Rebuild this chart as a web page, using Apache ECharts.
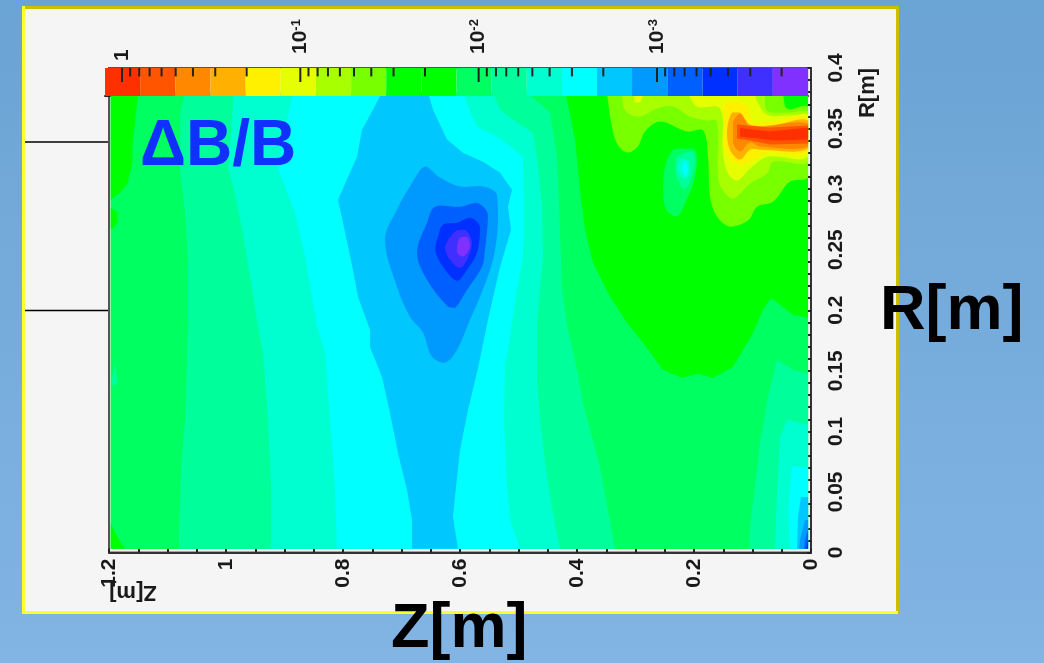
<!DOCTYPE html>
<html><head><meta charset="utf-8">
<style>html,body{margin:0;padding:0;background:#78ade0}#c{width:1044px;height:663px}</style>
<script src="https://cdn.jsdelivr.net/npm/echarts@6/dist/echarts.min.js"></script>
</head><body><div id="c"></div>
<script>
// ---- colour scale (19 visible steps, 20 bands; green occupies two) ----
const palette = ['#FF3000','#FF5500','#FF8800','#FFB000','#FFF000','#E6FF00','#A8FF00','#78FF00','#00FF00','#00FF00','#00FF60','#00FF9A','#00FFD0','#00FFFF','#00C8FF','#009AFF','#0060FF','#0030FF','#4030FF','#8030FF'];
const bandEdges = [1.245,0.791,0.5026,0.3192,0.2027,0.1288,0.0818,0.0519,0.033,0.02096,0.0133,0.00846,0.00537,0.00341,0.00217,0.00138,0.000874,0.000555,0.000353,0.000224,0.000142];
const majorTicks = [1,0.1,0.01,0.001];
const minorTicks = [0.9,0.8,0.7,0.6,0.5,0.4,0.3,0.2,0.09,0.08,0.07,0.06,0.05,0.04,0.03,0.02,0.009,0.008,0.007,0.006,0.005,0.004,0.003,0.002,0.0009,0.0008,0.0007,0.0006,0.0005,0.0004,0.0003,0.0002];
// ---- contour regions, as [Z, R] in metres ----
const fieldBase = [[1.197,0.38],[0.005,0.38],[0.005,0.003],[1.197,0.003]];
const g1Main = [[1.197,0.38],[0.42,0.38],[0.412,0.3616],[0.4034,0.3409],[0.3983,0.3161],[0.3932,0.2913],[0.3863,0.2665],[0.3726,0.2393],[0.3436,0.2112],[0.3145,0.1897],[0.2872,0.1731],[0.253,0.1508],[0.2205,0.1442],[0.1932,0.1475],[0.1675,0.1442],[0.1333,0.1533],[0.0991,0.1814],[0.0821,0.2004],[0.0684,0.2103],[0.0308,0.1963],[0.005,0.1938],[0.005,0.003],[1.197,0.003]];
const g0TopLeft = [[1.197,0.38],[1.15,0.38],[1.16,0.336],[1.16,0.322],[1.168,0.305],[1.181,0.297],[1.193,0.293],[1.197,0.291]];
const g0Left2 = [[1.197,0.2847],[1.186,0.2814],[1.185,0.2731],[1.193,0.2674],[1.197,0.2674]];
const g0BottomLeft = [[1.197,0.024],[1.188,0.0145],[1.173,0.003],[1.197,0.003]];
const g2Spot = [[1.197,0.137],[1.19,0.157],[1.185,0.14]];
const g2Main = [[1.07,0.38],[1.0786,0.3632],[1.0786,0.3135],[1.0701,0.2804],[1.065,0.2393],[1.065,0.1871],[1.0667,0.1649],[1.0701,0.1095],[1.0769,0.0707],[1.0803,0.0128],[1.0803,0.003],[0.335,0.003],[0.3607,0.0706],[0.3897,0.1235],[0.4,0.1508],[0.4171,0.188],[0.4256,0.2169],[0.4291,0.2665],[0.4342,0.3267],[0.4462,0.3632],[0.4855,0.38]];
const g3Main = [[0.9863,0.38],[0.988,0.3688],[0.9966,0.3169],[0.988,0.3029],[0.9727,0.2674],[0.959,0.2285],[0.9453,0.1871],[0.9368,0.1649],[0.9282,0.1095],[0.9231,0.0541],[0.9231,0.003],[0.4291,0.003],[0.441,0.0326],[0.4513,0.0624],[0.4632,0.1095],[0.4684,0.1424],[0.4684,0.1896],[0.4581,0.2441],[0.4598,0.2854],[0.4684,0.3267],[0.4752,0.3465],[0.5094,0.3574],[0.5316,0.3655],[0.5436,0.38]];
const cMain = [[0.8855,0.38],[0.894,0.3606],[0.9111,0.3169],[0.8821,0.2804],[0.865,0.2449],[0.8444,0.1871],[0.8308,0.1649],[0.8222,0.1095],[0.8137,0.0541],[0.8103,0.003],[0.4974,0.003],[0.5026,0.0103],[0.5145,0.0269],[0.5197,0.0541],[0.5248,0.1095],[0.5231,0.1566],[0.5197,0.1616],[0.5026,0.2169],[0.4923,0.2441],[0.4906,0.2723],[0.4923,0.3267],[0.518,0.3368],[0.5368,0.3433],[0.5709,0.3517],[0.5795,0.3599],[0.5949,0.38]];
const b1Main = [[0.7333,0.38],[0.7504,0.3641],[0.7675,0.349],[0.7761,0.3267],[0.8085,0.2913],[0.8,0.2723],[0.7829,0.2333],[0.7744,0.2112],[0.7538,0.1837],[0.7538,0.1697],[0.7333,0.1449],[0.7197,0.1151],[0.706,0.0822],[0.6906,0.0516],[0.6821,0.0269],[0.6821,0.003],[0.6034,0.003],[0.612,0.0293],[0.6068,0.0541],[0.6,0.0846],[0.5863,0.1176],[0.5692,0.1524],[0.5521,0.1921],[0.5316,0.2358],[0.5128,0.2665],[0.518,0.2854],[0.5111,0.2994],[0.5316,0.3135],[0.5607,0.3225],[0.5949,0.33],[0.6222,0.3409],[0.6462,0.3655],[0.6547,0.38]];
const b2Main = [[0.6598,0.3186],[0.6342,0.3095],[0.6,0.3021],[0.5607,0.3021],[0.5368,0.2955],[0.535,0.2723],[0.5436,0.2417],[0.5658,0.2112],[0.5829,0.1921],[0.6051,0.1673],[0.6256,0.1566],[0.6479,0.1616],[0.6632,0.1814],[0.6855,0.1946],[0.7077,0.2194],[0.7282,0.2583],[0.7077,0.2831],[0.6855,0.3021]];
const b3Main = [[0.6427,0.2855],[0.6,0.2855],[0.5709,0.2888],[0.5521,0.2789],[0.5573,0.25],[0.5624,0.2359],[0.588,0.2169],[0.6085,0.2021],[0.6205,0.2029],[0.6564,0.2252],[0.6735,0.2475],[0.6564,0.2723]];
const b4Main = [[0.6291,0.2706],[0.6051,0.2723],[0.5829,0.2764],[0.5658,0.269],[0.5709,0.2475],[0.588,0.2335],[0.6051,0.2244],[0.6291,0.2359],[0.6427,0.25],[0.6376,0.2607]];
const v1Main = [[0.6085,0.2649],[0.5915,0.2665],[0.5795,0.2558],[0.588,0.2417],[0.6,0.2351],[0.6171,0.2417],[0.6256,0.2517]];
const v2Main = [[0.6,0.2599],[0.588,0.2607],[0.5829,0.2525],[0.5949,0.2442],[0.6051,0.2475],[0.6051,0.2525]];
const g2Corner = [[0.0581,0.1591],[0.0308,0.1508],[0.005,0.1475],[0.005,0.003],[0.106,0.003],[0.1043,0.0211],[0.0872,0.0905],[0.0735,0.1285]];
const g3Corner = [[0.041,0.1095],[0.005,0.1054],[0.005,0.003],[0.0615,0.003],[0.0581,0.0492],[0.053,0.0955]];
const cCorner = [[0.0325,0.0715],[0.005,0.0698],[0.005,0.003],[0.0359,0.003],[0.0393,0.0351]];
const b1Corner = [[0.0171,0.0459],[0.005,0.0459],[0.005,0.003],[0.0239,0.003],[0.0222,0.0293]];
const b2Corner = [[0.0103,0.0269],[0.005,0.0269],[0.005,0.003],[0.0205,0.003],[0.0188,0.0103]];
const b3Corner = [[0.005,0.0186],[0.005,0.003],[0.012,0.003],[0.0103,0.0103]];
const b4Corner = [[0.005,0.0103],[0.005,0.003],[0.0085,0.003]];
const g1Island = [[0.2325,0.3335],[0.2017,0.3335],[0.1949,0.3267],[0.1983,0.3103],[0.2103,0.2938],[0.2291,0.2773],[0.2462,0.2822],[0.253,0.2963],[0.2496,0.3186]];
const g2Island = [[0.2291,0.3267],[0.2034,0.331],[0.1983,0.3235],[0.2034,0.3103],[0.2154,0.3004],[0.2274,0.307],[0.2325,0.3186]];
const g3Island = [[0.2205,0.3252],[0.2103,0.3235],[0.2068,0.3144],[0.2154,0.3087],[0.2274,0.3144],[0.2291,0.3194]];
const cIsland = [[0.2154,0.3227],[0.2103,0.3169],[0.2137,0.3112],[0.2205,0.3169]];
const y3Hot = [[0.3487,0.38],[0.3402,0.3517],[0.3316,0.3376],[0.3145,0.3302],[0.2957,0.3355],[0.2838,0.3475],[0.2581,0.3558],[0.212,0.3475],[0.1846,0.3483],[0.1761,0.3267],[0.1726,0.2938],[0.1607,0.2773],[0.1385,0.269],[0.1077,0.274],[0.0923,0.2855],[0.065,0.2896],[0.0359,0.3062],[0.005,0.3103],[0.005,0.3673],[0.041,0.3665],[0.053,0.38]];
const y2Hot = [[0.3231,0.38],[0.318,0.3649],[0.2923,0.3599],[0.2633,0.3665],[0.2359,0.3682],[0.2068,0.3599],[0.1778,0.3566],[0.1607,0.3558],[0.159,0.3103],[0.1504,0.2988],[0.1333,0.2921],[0.1043,0.3045],[0.0752,0.3128],[0.065,0.3227],[0.005,0.3227],[0.005,0.3632],[0.0359,0.3632],[0.0752,0.3649],[0.0838,0.38]];
const y1Hot = [[0.2103,0.38],[0.1949,0.3682],[0.1556,0.3665],[0.1504,0.3293],[0.1419,0.3128],[0.1265,0.307],[0.1043,0.3169],[0.0735,0.3267],[0.005,0.3267],[0.005,0.3607],[0.0359,0.3607],[0.0752,0.3615],[0.0923,0.3723],[0.0991,0.38]];
const y1Patch = [[0.3043,0.38],[0.2838,0.38],[0.2923,0.3715],[0.3009,0.3715]];
const y0Hot = [[0.147,0.3715],[0.1265,0.3723],[0.1094,0.3682],[0.0991,0.3558],[0.065,0.3558],[0.005,0.359],[0.005,0.3302],[0.0752,0.3302],[0.0991,0.3244],[0.1214,0.3202],[0.1419,0.3267],[0.1504,0.3467]];
const o1Hot = [[0.135,0.3632],[0.1214,0.3632],[0.1043,0.3533],[0.065,0.353],[0.005,0.3566],[0.005,0.3335],[0.0872,0.3326],[0.1043,0.3326],[0.1214,0.3244],[0.1385,0.3326],[0.1436,0.3467]];
const o2Hot = [[0.1333,0.355],[0.1214,0.3624],[0.1128,0.3574],[0.1043,0.3508],[0.005,0.3541],[0.005,0.3351],[0.0872,0.3351],[0.1043,0.3384],[0.1214,0.331],[0.1333,0.3384]];
const r1Hot = [[0.1265,0.3533],[0.0701,0.3508],[0.005,0.3525],[0.005,0.3376],[0.0701,0.3368],[0.1043,0.3401],[0.1265,0.3417]];
const r0Hot = [[0.1214,0.3504],[0.0701,0.3475],[0.005,0.3508],[0.005,0.3409],[0.0615,0.3401],[0.1214,0.3434]];
// painted back to front: [band index in palette, region]
const regions = [[8,fieldBase],[10,g1Main],[8,g0TopLeft],[8,g0Left2],[8,g0BottomLeft],[11,g2Spot],[11,g2Main],[12,g3Main],[13,cMain],[14,b1Main],[15,b2Main],[16,b3Main],[17,b4Main],[18,v1Main],[19,v2Main],[11,g2Corner],[12,g3Corner],[13,cCorner],[14,b1Corner],[15,b2Corner],[16,b3Corner],[17,b4Corner],[10,g1Island],[11,g2Island],[12,g3Island],[13,cIsland],[7,y3Hot],[6,y2Hot],[5,y1Hot],[5,y1Patch],[4,y0Hot],[3,o1Hot],[2,o2Hot],[1,r1Hot],[0,r0Hot]];
const roundedRegions = new Set([b2Main,b3Main,b4Main,v1Main,v2Main,g1Island,g2Island,g3Island,cIsland,y3Hot,y2Hot,y1Hot,y0Hot,o1Hot,o2Hot]);

const labelFont = {fontFamily:'Liberation Sans',fontWeight:'bold',fontSize:21,color:'#1a1a1a'};
const bigFont = 'bold 63px "Liberation Sans"';
function boundsOf(pts){
  const xs=pts.map(p=>p[0]), ys=pts.map(p=>p[1]);
  return [[Math.min(...xs),Math.min(...ys)],[Math.max(...xs),Math.max(...ys)]];
}
const chart = echarts.init(document.getElementById('c'),null,{renderer:'canvas'});
chart.setOption({
  animation:false,
  backgroundColor:{type:'linear',x:0,y:0,x2:0,y2:1,colorStops:[{offset:0,color:'#6AA4D4'},{offset:1,color:'#82B4E4'}]},
  graphic:[
    {type:'rect',z:-10,silent:true,shape:{x:22,y:6,width:876,height:607},style:{fill:'#F5F5F5'}},
    {type:'rect',z:-9,silent:true,shape:{x:22,y:6,width:876,height:3},style:{fill:'#C8C000'}},
    {type:'rect',z:-9,silent:true,shape:{x:896,y:6,width:3,height:608},style:{fill:'#C8C000'}},
    {type:'rect',z:-9,silent:true,shape:{x:22,y:6,width:3,height:608},style:{fill:'#FFFF30'}},
    {type:'rect',z:-9,silent:true,shape:{x:22,y:611,width:876,height:3},style:{fill:'#FFFF30'}},
    {type:'line',z:-8,silent:true,shape:{x1:25,y1:142,x2:109,y2:142},style:{stroke:'#000',lineWidth:1.5}},
    {type:'line',z:-8,silent:true,shape:{x1:25,y1:310.5,x2:109,y2:310.5},style:{stroke:'#000',lineWidth:1.5}},
    {type:'text',z:100,silent:true,x:140,y:115,style:{text:'ΔB/B',font:'bold 64px "Liberation Sans"',fill:'#1030FF'}},
    {type:'text',z:100,silent:true,x:880,y:280,style:{text:'R[m]',font:bigFont,fill:'#000'}},
    {type:'text',z:100,silent:true,x:391,y:598,style:{text:'Z[m]',font:bigFont,fill:'#000'}},
    {type:'text',z:100,silent:true,x:868,y:93,rotation:Math.PI/2,style:{text:'R[m]',font:'bold 22px "Liberation Sans"',fill:'#1a1a1a',align:'center',verticalAlign:'middle'}},
    {type:'text',z:100,silent:true,x:133,y:592,rotation:Math.PI,style:{text:'Z[m]',font:'bold 22px "Liberation Sans"',fill:'#1a1a1a',align:'center',verticalAlign:'middle'}}
  ],
  grid:[
    {left:109,top:68,width:702,height:484.5,show:true,borderColor:'#555',borderWidth:2,backgroundColor:'#F5F5F5',containLabel:false},
    {left:105,top:68,width:703,height:28,containLabel:false}
  ],
  xAxis:[
    {type:'value',gridIndex:0,inverse:true,min:0,max:1.2,interval:0.2,position:'bottom',
     axisLine:{lineStyle:{color:'#333',width:2}},splitLine:{show:false},
     axisTick:{inside:true,length:4,lineStyle:{color:'#222',width:2}},
     minorTick:{show:true,splitNumber:4,length:4,lineStyle:{color:'#222',width:2}},minorSplitLine:{show:false},
     axisLabel:Object.assign({rotate:90,margin:6,hideOverlap:false,showMinLabel:true,showMaxLabel:true,formatter:v=>String(+v.toFixed(1))},labelFont)},
    {type:'log',gridIndex:1,inverse:true,min:0.0001423,max:1.2453,logBase:10,position:'top',
     axisLine:{show:true,lineStyle:{color:'#222',width:2}},splitLine:{show:false},
     axisTick:{show:false},
     axisLabel:Object.assign({rotate:90,margin:7,hideOverlap:false,customValues:majorTicks,
       formatter:v=>{const e=Math.round(Math.log10(v));return e===0?'{a|1}':'{c|10}{b|'+e+'}';},
       rich:{a:labelFont,c:Object.assign({padding:[0,0,0,7]},labelFont),b:{fontFamily:'Liberation Sans',fontWeight:'bold',fontSize:13,color:'#1a1a1a',verticalAlign:'top',lineHeight:20}}},labelFont)}
  ],
  yAxis:[
    {type:'value',gridIndex:0,min:0,max:0.4,interval:0.05,position:'right',
     axisLine:{show:true,lineStyle:{color:'#333',width:2}},splitLine:{show:false},
     axisTick:{show:true,inside:true,length:4,lineStyle:{color:'#222',width:2}},
     minorTick:{show:true,splitNumber:5,length:4,lineStyle:{color:'#222',width:2}},minorSplitLine:{show:false},
     axisLabel:Object.assign({rotate:90,margin:25,align:'center',verticalAlign:'middle',hideOverlap:false},labelFont)},
    {type:'value',gridIndex:1,min:0,max:1,show:false}
  ],
  series:[
    {type:'custom',xAxisIndex:0,yAxisIndex:0,silent:true,z:2,data:regions.map((r,i)=>[i]),
     renderItem:(p,api)=>{const r=regions[api.value(0)];
       const pts=r[1].map(pt=>api.coord(pt));
       const shape={points:pts};
       if(roundedRegions.has(r[1])){shape.smooth=0.35;shape.smoothConstraint=boundsOf(pts);}
       return {type:'polygon',shape:shape,style:{fill:palette[r[0]]}};}},
    {type:'custom',xAxisIndex:1,yAxisIndex:1,silent:true,z:5,data:palette.map((c,i)=>[bandEdges[i],bandEdges[i+1],i]),
     renderItem:(p,api)=>{const a=api.coord([api.value(0),1]),b=api.coord([api.value(1),0]);
       return {type:'rect',shape:{x:a[0],y:a[1],width:b[0]-a[0],height:b[1]-a[1]},style:{fill:palette[api.value(2)]}};}},
    {type:'custom',xAxisIndex:1,yAxisIndex:1,silent:true,z:6,data:minorTicks.map(v=>[v,0.7]).concat(majorTicks.map(v=>[v,0.5])),
     renderItem:(p,api)=>{const a=api.coord([api.value(0),1]),b=api.coord([api.value(0),api.value(1)]);
       return {type:'line',shape:{x1:a[0],y1:a[1],x2:b[0],y2:b[1]},style:{stroke:'#222',lineWidth:2}};}}
  ]
});
</script></body></html>
